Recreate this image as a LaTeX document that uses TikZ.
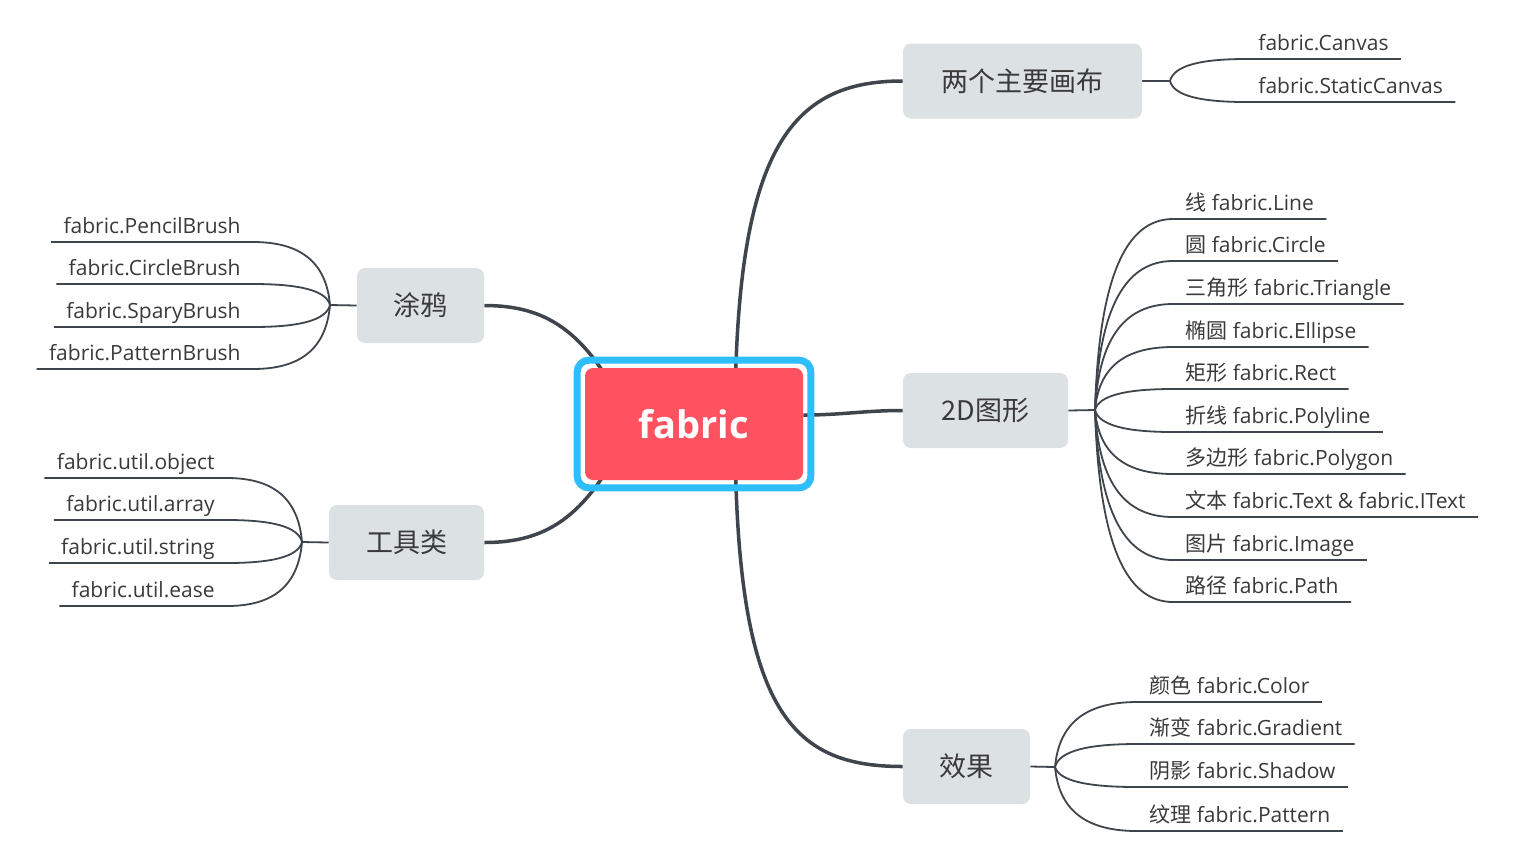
\documentclass[tikz,border=0pt]{standalone}
\usepackage{fontspec}
\setmainfont{Open Sans}
\newfontfamily\cjk{Noto Sans CJK SC}
\usepackage{tikz}
\usetikzlibrary{calc}
\definecolor{boxgray}{HTML}{DCE2E4}
\definecolor{linegray}{HTML}{3E454C}
\definecolor{txtgray}{HTML}{3A3A3A}
\definecolor{fabred}{HTML}{FF5260}
\definecolor{selblue}{HTML}{2EBEFE}
\pgfdeclarelayer{bg}
\pgfsetlayers{bg,main}

\begin{document}
\begin{tikzpicture}[x=0.5pt,y=-0.5pt,
  core/.style={fill=fabred,rounded corners=4pt,minimum width=109pt,minimum height=56pt,inner sep=0pt,text=white,font=\bfseries\fontsize{19}{22}\selectfont},
  selframe/.style={draw=selblue,line width=3.5pt,rounded corners=6pt},
  topic/.style={fill=boxgray,rounded corners=4pt,minimum height=37.5pt,inner sep=0pt,text=txtgray,font=\cjk\fontsize{13.5}{16}\selectfont},
  sub/.style={inner xsep=6pt,inner ysep=4pt,text depth=0pt,text=txtgray,font=\fontsize{10.5}{12}\selectfont},
  trunk/.style={draw=linegray,line width=1.75pt},
  twig/.style={draw=linegray,line width=0.9pt},
  sprout/.style={to path={let \p1=(\tikztostart),\p2=(\tikztotarget) in
    .. controls ({\x1+0.05*(\x2-\x1)},{\y1+0.7*(\y2-\y1)}) and ({\x2-0.6*(\x2-\x1)},\y2) .. (\tikztotarget)}}]
\useasboundingbox (0,0) rectangle (1514,864);
% centre and main topics
\node[core] (fabric) at (694,424) {fabric};
\draw[selframe] ([shift={(-3.75pt,3.75pt)}]fabric.north west) rectangle ([shift={(3.75pt,-3.75pt)}]fabric.south east);
\node[topic,minimum width=119.5pt] (canvas) at (1022.5,81) {两个主要画布};
\node[topic,minimum width=82.5pt] (shapes) at (985.5,410.5) {2D图形};
\node[topic,minimum width=63.5pt] (effects) at (966.5,766.5) {效果};
\node[topic,minimum width=63.5pt] (brush) at (420.5,305.5) {涂鸦};
\node[topic,minimum width=77.5pt] (util) at (406.5,542.5) {工具类};
% forks
\coordinate (fc) at (1170,81);
\coordinate (fs) at (1095,410);
\coordinate (fe) at (1055,767);
\coordinate (fb) at (330,305);
\coordinate (fu) at (302,542);
% canvases
\node[sub,anchor=south west] (cv) at (1246,59) {fabric.Canvas};
\node[sub,anchor=south west] (scv) at (1246,102) {fabric.StaticCanvas};
% 2D shapes
\node[sub,anchor=south west] (line) at (1173,219) {{\cjk 线} fabric.Line};
\node[sub,anchor=south west] (circle) at (1173,261) {{\cjk 圆} fabric.Circle};
\node[sub,anchor=south west] (tri) at (1173,304) {{\cjk 三角形} fabric.Triangle};
\node[sub,anchor=south west] (ell) at (1173,347) {{\cjk 椭圆} fabric.Ellipse};
\node[sub,anchor=south west] (rect) at (1173,389) {{\cjk 矩形} fabric.Rect};
\node[sub,anchor=south west] (pline) at (1173,432) {{\cjk 折线} fabric.Polyline};
\node[sub,anchor=south west] (pgon) at (1173,474) {{\cjk 多边形} fabric.Polygon};
\node[sub,anchor=south west] (text) at (1173,517) {{\cjk 文本} fabric.Text \& fabric.IText};
\node[sub,anchor=south west] (img) at (1173,560) {{\cjk 图片} fabric.Image};
\node[sub,anchor=south west] (path) at (1173,602) {{\cjk 路径} fabric.Path};
% effects
\node[sub,anchor=south west] (color) at (1137,702) {{\cjk 颜色} fabric.Color};
\node[sub,anchor=south west] (grad) at (1137,744) {{\cjk 渐变} fabric.Gradient};
\node[sub,anchor=south west] (shadow) at (1137,787) {{\cjk 阴影} fabric.Shadow};
\node[sub,anchor=south west] (pat) at (1137,831) {{\cjk 纹理} fabric.Pattern};
% brushes
\node[sub,anchor=south east] (pencil) at (253,242) {fabric.PencilBrush};
\node[sub,anchor=south east] (cbrush) at (253,284) {fabric.CircleBrush};
\node[sub,anchor=south east] (spary) at (253,327) {fabric.SparyBrush};
\node[sub,anchor=south east] (pbrush) at (253,369) {fabric.PatternBrush};
% utils
\node[sub,anchor=south east] (uobj) at (227,478) {fabric.util.object};
\node[sub,anchor=south east] (uarr) at (227,520) {fabric.util.array};
\node[sub,anchor=south east] (ustr) at (227,563) {fabric.util.string};
\node[sub,anchor=south east] (uease) at (227,606) {fabric.util.ease};
\begin{pgfonlayer}{bg}
\fill[white] (0,0) rectangle (1514,864);
% main branches
\draw[trunk] ([xshift=20.5pt]fabric.center) .. controls +(0,-274) and +(-113,0) .. (canvas.west);
\draw[trunk] ([yshift=4.5pt]fabric.east) to[out=0,in=180] (shapes.west);
\draw[trunk] ([xshift=20.5pt]fabric.center) .. controls +(0,286) and +(-113,0) .. (effects.west);
\draw[trunk] ([shift={(-34.5pt,7pt)}]fabric.center) .. controls +(-40,-80) and +(61,0) .. (brush.east);
\draw[trunk] ([shift={(-34.5pt,-7pt)}]fabric.center) .. controls +(-40,80) and +(61,0) .. (util.east);
% sub branches
\draw[twig] (canvas.east) -- (fc);
\draw[twig] (fc) to[sprout] (cv.south west) -- (cv.south east);
\draw[twig] (fc) to[sprout] (scv.south west) -- (scv.south east);
\draw[twig] (shapes.east) -- (fs);
\draw[twig] (fs) to[sprout] (line.south west) -- (line.south east);
\draw[twig] (fs) to[sprout] (circle.south west) -- (circle.south east);
\draw[twig] (fs) to[sprout] (tri.south west) -- (tri.south east);
\draw[twig] (fs) to[sprout] (ell.south west) -- (ell.south east);
\draw[twig] (fs) to[sprout] (rect.south west) -- (rect.south east);
\draw[twig] (fs) to[sprout] (pline.south west) -- (pline.south east);
\draw[twig] (fs) to[sprout] (pgon.south west) -- (pgon.south east);
\draw[twig] (fs) to[sprout] (text.south west) -- (text.south east);
\draw[twig] (fs) to[sprout] (img.south west) -- (img.south east);
\draw[twig] (fs) to[sprout] (path.south west) -- (path.south east);
\draw[twig] (effects.east) -- (fe);
\draw[twig] (fe) to[sprout] (color.south west) -- (color.south east);
\draw[twig] (fe) to[sprout] (grad.south west) -- (grad.south east);
\draw[twig] (fe) to[sprout] (shadow.south west) -- (shadow.south east);
\draw[twig] (fe) to[sprout] (pat.south west) -- (pat.south east);
\draw[twig] (brush.west) -- (fb);
\draw[twig] (fb) to[sprout] (pencil.south east) -- (pencil.south west);
\draw[twig] (fb) to[sprout] (cbrush.south east) -- (cbrush.south west);
\draw[twig] (fb) to[sprout] (spary.south east) -- (spary.south west);
\draw[twig] (fb) to[sprout] (pbrush.south east) -- (pbrush.south west);
\draw[twig] (util.west) -- (fu);
\draw[twig] (fu) to[sprout] (uobj.south east) -- (uobj.south west);
\draw[twig] (fu) to[sprout] (uarr.south east) -- (uarr.south west);
\draw[twig] (fu) to[sprout] (ustr.south east) -- (ustr.south west);
\draw[twig] (fu) to[sprout] (uease.south east) -- (uease.south west);
\end{pgfonlayer}
\end{tikzpicture}
\end{document}
